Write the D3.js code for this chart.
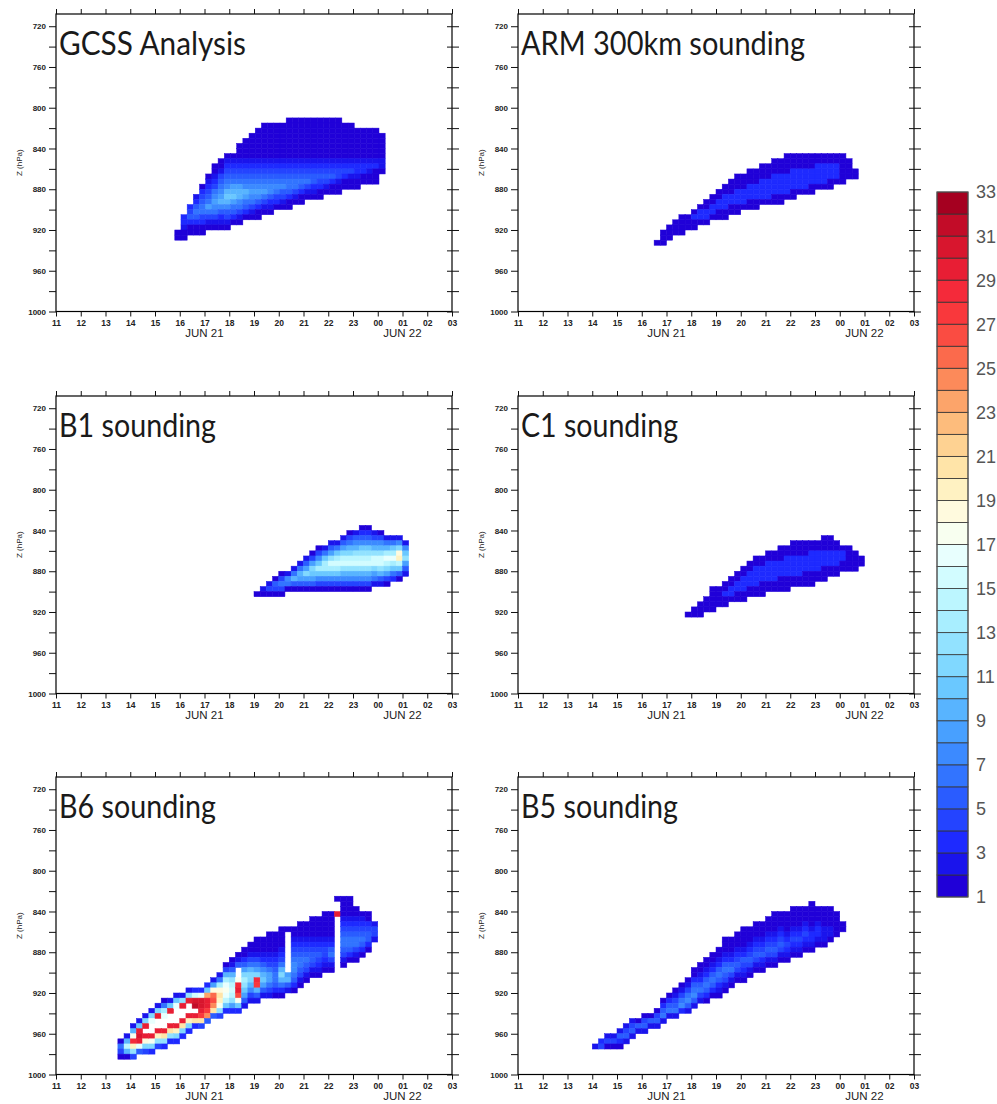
<!DOCTYPE html>
<meta charset="utf-8">
<script src="https://d3js.org/d3.v7.min.js"></script>
<style>
  body { margin: 0; background: #fff; }
  text { font-family: "Liberation Sans", Arial, sans-serif; }
</style>
<body>
<div id="chart"></div>
<script>
// time axis: 21 June 11 UTC .. 22 June 03 UTC (hours after 00 UTC 21 June)
const hourTicks = [11,12,13,14,15,16,17,18,19,20,21,22,23,24,25,26,27];
const hourLabels = ["11","12","13","14","15","16","17","18","19","20","21","22","23","00","01","02","03"];
const dayTicks = [17, 25];
const dayLabels = ["JUN 21", "JUN 22"];
const tDomain = [11, 27];

// pressure axis (hPa)
const pMajor = [720,760,800,840,880,920,960,1000];
const pMinor = [740,780,820,860,900,940,980];
const pDomain = [708, 1000];

// colour levels 1..33, one colour per unit bin
const levelTicks = [1,3,5,7,9,11,13,15,17,19,21,23,25,27,29,31,33];
const levelColors = [
  "#2000d8","#1a14ec","#1e2aff","#2444ff","#2a5cff","#3274ff","#3c8aff","#48a0ff",
  "#58b4ff","#6ac8ff","#80d8ff","#92e2ff","#a8eeff","#bcf6ff","#d2fcff","#e8fffe",
  "#f8fff0","#fffade","#fff2c2","#ffe4a8","#fed292","#fdbc7c","#fca46a","#fc8a5a",
  "#fb6a4c","#fa4c42","#f9383c","#f42a3a","#e81e34","#d8162e","#c20c28","#a50020"
];

const panelTitles = ["GCSS Analysis", "ARM 300km sounding", "B1 sounding",
                     "C1 sounding", "B6 sounding", "B5 sounding"];

// gridded fields: one string per 15-min column,
// "firstRow:levels" going down in 5 hPa steps ('.' = no value, a=10 ... w=32)
const gcss = {t0: 15.8, p0: 810, dt: 0.25, dp: 5, cols: [
  "22:11","19:33211","17:345311","15:23565311","13:1345664311","11:12345686421",
  "9:1123467876421","8:11245678975321","7:12345679a975421","7:12345689a86531",
  "5:1112345689976421","4:1111234567986531","3:11111234567876421",
  "2:111111234567875311","1:111111123456786421","1:111111123456775321",
  "1:11111112345676431","1:11111112345675421","0:111111112345665311",
  "0:11111111234566421","0:11111111234565311","0:1111111123456421",
  "0:1111111123455321","0:1111111123454311","0:111111112345421",
  "0:111111112345311","0:111111112344211","1:1111111234311","1:1111111234211",
  "2:111111233211","2:11111123311","2:11111123211","2:11111123111","3:11111221"
]};

const arm = {t0: 16.5, p0: 840, dt: 0.25, dp: 5, cols: [
  "18:1","16:111","15:111","14:111","13:1111","13:111","12:1311","11:1331",
  "10:11331","9:11331","8:113311","7:1133311","6:1113311","5:11133311","5:1113331",
  "4:11133311","4:11133311","3:11133331","3:11133331","2:111333311","2:111333311",
  "1:111133331","1:111333311","1:11133331","1:11133331","1:11133311","1:1133331",
  "1:1133331","1:1133311","1:113331","1:111111","2:1111","4:11"
]};

const b1 = {t0: 19.0, p0: 835, dt: 0.25, dp: 5, cols: [
  "13:1","12:21","11:241","10:1541","9:14641","9:2761","8:26951","7:269851",
  "6:258b851","5:148ba851","4:147ada741","4:26adda741","3:258cfda741",
  "3:26adfda741","2:258befc9741","1:1469befc9741","1:2579cefc9741",
  "0:1357acefc9741","0:1357acefc9741","1:2479cffb862","1:1479cffc952",
  "2:269dgeb841","2:26adgda63","2:27bijea51","3:27ac852"
]};

const c1 = {t0: 17.75, p0: 845, dt: 0.25, dp: 5, cols: [
  "15:1","14:11","13:111","12:111","10:11111","10:1111","9:11311","8:11331",
  "7:113311","6:1133311","5:1133311","4:11333311","4:11333111","3:11333311",
  "3:11333311","2:111333111","2:113333111","1:111333311","1:111333311",
  "1:111333111","1:113333111","1:11333311","0:111333111","0:11133311",
  "1:1133311","2:13311","2:11111","3:1111","4:11"
]};

const b6 = {t0: 13.5, p0: 825, dt: 0.25, dp: 5, cols: [
  "28:1641","27:29e91","25:29hsjc4","24:2atutg5","23:2bt.tib4","22:2bg..thb3",
  "21:2bt..tjc4","20:16dg..tkc3","20:2at..tkc3","19:2ag...tjb3","19:2ct..tkb3",
  "18:2ct..tjb3","18:3fuv.tk3","18:3guutrk4","17:3anttro5","16:28ipqok5",
  "15:26dikjhc4","13:149dghgea3","12:1259cefec83","11:125..hstqha3",
  "10:11358bdca852","9:112469bb9742","8:1112468bsr952","8:11123579a852",
  "7:1111234688642","7:1111234566531","6:111123469b9631","6:1........8952",
  "6:1123456776531","5:1112345665421","5:111234565421","4:111123455421",
  "4:111123454321","3:111112344321","3:111112356421","0:1..t",
  "0:11112345665421","0:1111234566531","2:11234566421","3:123456531",
  "3:11345531","5:2442"
]};

const b5 = {t0: 14.0, p0: 830, dt: 0.25, dp: 5, cols: [
  "28:2","27:34","26:241","26:241","25:2531","24:2452","23:2452","23:152",
  "22:1452","22:152","21:1452","19:13562","18:13562","17:124562","16:124673",
  "15:1246752","13:11356752","12:11235642","11:112356531","10:112356531",
  "9:1123565321","7:11123565421","7:1112356421","6:1112345421","5:11112354321",
  "5:1112345421","4:1112345421","4:1112345321","3:1112345421","2:11112345421",
  "2:1112345421","2:1111234321","1:1111234321","1:1111234321","1:111234321",
  "0:1111123321","1:11123321","1:11112221","1:1111221","2:11111","4:11"
]};

const grids = [gcss, arm, b1, c1, b6, b5];

// layout
const width = 997, height = 1104;
const colX = [56, 518];
const rowY = [14, 396, 777];
const panelW = 396, panelH = 297.5;
const titleWidths = [187, 284, 157, 157, 157, 157];

const svg = d3.select("#chart").append("svg")
  .attr("width", width).attr("height", height)
  .style("background", "#fff");

const x = d3.scaleLinear().domain(tDomain).range([0, panelW]);
const y = d3.scaleLinear().domain(pDomain).range([0, panelH]);

function cellsOf(grid) {
  const out = [];
  grid.cols.forEach((s, j) => {
    const [off, levels] = s.split(":");
    [...levels].forEach((ch, k) => {
      if (ch === ".") return;
      out.push({
        t: grid.t0 + j * grid.dt,
        p: grid.p0 + (+off + k) * grid.dp,
        level: parseInt(ch, 36)
      });
    });
  });
  return out;
}

grids.forEach((grid, i) => {
  const g = svg.append("g")
    .attr("transform", `translate(${colX[i % 2]},${rowY[Math.floor(i / 2)]})`);

  // raster cells
  g.append("g").selectAll("rect")
    .data(cellsOf(grid))
    .join("rect")
      .attr("x", d => x(d.t))
      .attr("y", d => y(d.p))
      .attr("width", d => x(d.t + grid.dt) - x(d.t))
      .attr("height", d => y(d.p + grid.dp) - y(d.p))
      .attr("fill", d => levelColors[d.level - 1])
      .attr("stroke", d => levelColors[d.level - 1])
      .attr("stroke-width", 0.5);

  // frame
  g.append("rect")
    .attr("width", panelW).attr("height", panelH)
    .attr("fill", "none").attr("stroke", "#000").attr("stroke-width", 1.2);

  // left axis
  const left = g.append("g")
    .call(d3.axisLeft(y).tickValues(pMajor).tickSize(7).tickPadding(3).tickFormat(d3.format("d")));
  left.append("g")
    .call(d3.axisLeft(y).tickValues(pMinor).tickSize(7).tickFormat(""));
  left.selectAll("text")
    .style("font-size", "8px").style("font-weight", "bold").attr("fill", "#222");

  // right axis, ticks through the frame
  const right = g.append("g")
    .attr("transform", `translate(${panelW},0)`)
    .call(d3.axisRight(y).tickValues(pMajor.concat(pMinor)).tickSize(7).tickFormat(""));
  right.selectAll("line").attr("x1", -5);

  // top axis
  g.append("g")
    .call(d3.axisTop(x).tickValues(hourTicks).tickSize(5).tickFormat(""));

  // bottom axis
  const bottom = g.append("g")
    .attr("transform", `translate(0,${panelH})`)
    .call(d3.axisBottom(x).tickValues(hourTicks).tickSize(5).tickPadding(3)
      .tickFormat((d, k) => hourLabels[k]));
  bottom.selectAll("text")
    .style("font-size", "8.5px").style("font-weight", "bold").attr("fill", "#222");

  g.selectAll(".domain").remove();
  g.selectAll(".tick line").attr("stroke", "#111");

  // day labels
  g.selectAll("text.day")
    .data(dayTicks)
    .join("text")
      .attr("class", "day")
      .attr("x", d => x(d))
      .attr("y", panelH + 25.5)
      .attr("text-anchor", "middle")
      .style("font-size", "11.5px")
      .attr("fill", "#222")
      .text((d, k) => dayLabels[k]);

  // y axis title
  g.append("text")
    .attr("transform", `translate(-34,${panelH / 2}) rotate(-90)`)
    .attr("text-anchor", "middle")
    .style("font-size", "8px")
    .attr("fill", "#222")
    .text("Z (hPa)");

  // panel title
  g.append("text")
    .attr("x", 3).attr("y", 41)
    .attr("textLength", titleWidths[i])
    .attr("lengthAdjust", "spacingAndGlyphs")
    .style("font-family", "Lato, 'Open Sans', sans-serif")
    .style("font-size", "32px")
    .attr("fill", "#1a1a1a")
    .text(panelTitles[i]);
});

// colour bar
const cbX = 937, cbY = 192, cbW = 31, cbH = 705;
const cb = d3.scaleLinear().domain([1, 33]).range([cbH, 0]);
const bar = svg.append("g").attr("transform", `translate(${cbX},${cbY})`);

bar.selectAll("rect")
  .data(levelColors)
  .join("rect")
    .attr("x", 0)
    .attr("y", (c, k) => cb(k + 2))
    .attr("width", cbW)
    .attr("height", (c, k) => cb(k + 1) - cb(k + 2))
    .attr("fill", c => c)
    .attr("stroke", "#333")
    .attr("stroke-width", 0.8);

bar.append("rect")
  .attr("width", cbW).attr("height", cbH)
  .attr("fill", "none").attr("stroke", "#555").attr("stroke-width", 1);

bar.selectAll("text")
  .data(levelTicks)
  .join("text")
    .attr("x", cbW + 8)
    .attr("y", d => cb(d))
    .attr("dy", "0.36em")
    .style("font-size", "18px")
    .attr("fill", "#555")
    .text(d => d);
</script>
</body>
